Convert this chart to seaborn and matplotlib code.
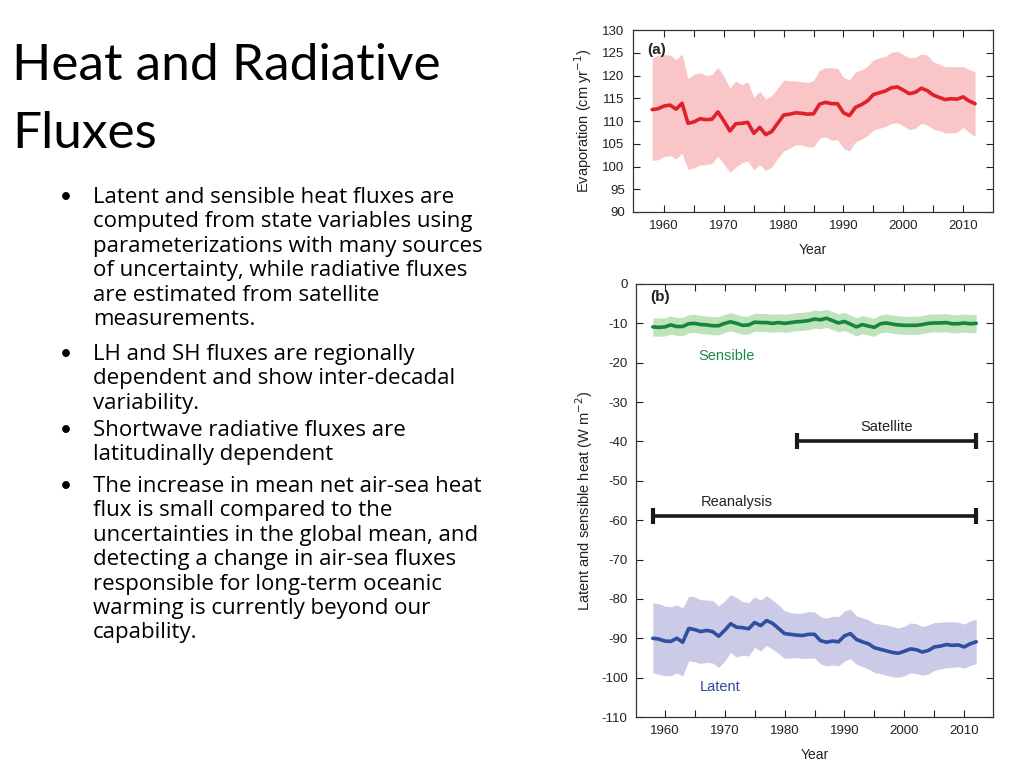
import numpy as np
import pandas as pd
import matplotlib
matplotlib.use("Agg")
import matplotlib.pyplot as plt
import seaborn as sns

# --- data (years 1958-2012) ---
years = list(range(1958, 2013))

evap = [112.5, 112.7, 113.3, 113.5, 112.6, 113.9, 109.5, 109.8, 110.5, 110.3,
        110.4, 112.0, 110.0, 107.8, 109.4, 109.5, 109.7, 107.3, 108.6, 107.0,
        107.7, 109.5, 111.3, 111.5, 111.8, 111.7, 111.5, 111.6, 113.7, 114.1,
        113.8, 113.8, 111.8, 111.2, 113.0, 113.6, 114.4, 115.8, 116.2, 116.6,
        117.3, 117.5, 116.8, 116.0, 116.3, 117.2, 116.7, 115.7, 115.2, 114.7,
        114.9, 114.8, 115.3, 114.4, 113.8]
evap_hi = [123.8, 124.5, 124.6, 124.5, 123.5, 124.7, 119.3, 120.3, 120.6, 120.0,
           120.2, 121.8, 119.8, 117.2, 118.8, 118.0, 118.6, 115.2, 116.5, 114.8,
           115.6, 117.2, 119.0, 118.8, 118.8, 118.6, 118.5, 118.9, 121.2, 121.7,
           121.7, 121.6, 119.6, 119.0, 120.8, 121.2, 122.0, 123.4, 123.9, 124.2,
           125.1, 125.3, 124.6, 123.9, 124.0, 124.7, 124.5, 123.0, 122.5, 121.9,
           122.0, 121.9, 122.0, 121.3, 120.8]
evap_lo = [101.3, 101.5, 102.2, 102.4, 101.6, 102.9, 99.4, 99.7, 100.3, 100.4,
           100.7, 102.3, 100.5, 98.7, 99.9, 100.8, 101.2, 99.3, 100.4, 99.1,
           99.9, 101.8, 103.4, 104.0, 104.8, 104.7, 104.3, 104.3, 106.2, 106.5,
           105.8, 105.9, 104.0, 103.4, 105.4, 106.0, 106.8, 108.0, 108.4, 108.8,
           109.4, 109.6, 108.9, 108.1, 108.4, 109.5, 109.1, 108.2, 107.9, 107.4,
           107.4, 107.5, 108.6, 107.5, 106.6]

sensible = [-10.9, -11.0, -10.9, -10.4, -10.8, -10.8, -10.1, -10.0, -10.3, -10.4,
            -10.6, -10.6, -10.0, -9.6, -10.0, -10.5, -10.4, -9.7, -9.8, -9.8,
            -10.0, -9.8, -10.0, -9.8, -9.6, -9.5, -9.3, -8.9, -9.1, -8.7,
            -9.3, -9.9, -9.5, -10.2, -10.9, -10.3, -10.7, -11.0, -10.1, -9.9,
            -10.2, -10.4, -10.5, -10.5, -10.5, -10.3, -10.0, -9.9, -9.9, -9.8,
            -10.1, -10.1, -9.9, -10.1, -10.0]
sensible_hi = [-8.6, -8.7, -8.6, -8.1, -8.5, -8.5, -7.8, -7.7, -8.0, -8.1,
               -8.3, -8.3, -7.7, -7.3, -7.7, -8.2, -8.1, -7.4, -7.5, -7.5,
               -7.7, -7.5, -7.7, -7.5, -7.3, -7.2, -7.0, -6.6, -6.8, -6.4,
               -7.0, -7.6, -7.2, -7.9, -8.6, -8.0, -8.4, -8.7, -7.8, -7.6,
               -7.9, -8.1, -8.2, -8.2, -8.2, -8.0, -7.7, -7.6, -7.6, -7.5,
               -7.8, -7.8, -7.6, -7.8, -7.7]
sensible_lo = [-13.2, -13.3, -13.2, -12.7, -13.1, -13.1, -12.4, -12.3, -12.6, -12.7,
               -12.9, -12.9, -12.3, -11.9, -12.3, -12.8, -12.7, -12.0, -12.1, -12.1,
               -12.3, -12.1, -12.3, -12.1, -11.9, -11.8, -11.6, -11.2, -11.4, -11.0,
               -11.6, -12.2, -11.8, -12.5, -13.2, -12.6, -13.0, -13.3, -12.4, -12.2,
               -12.5, -12.7, -12.8, -12.8, -12.8, -12.6, -12.3, -12.2, -12.2, -12.1,
               -12.4, -12.4, -12.2, -12.4, -12.3]

latent = [-90.0, -90.2, -90.7, -90.8, -90.0, -91.0, -87.5, -87.8, -88.3, -88.0,
          -88.3, -89.5, -88.0, -86.3, -87.2, -87.3, -87.6, -86.0, -86.8, -85.5,
          -86.2, -87.5, -88.8, -89.0, -89.2, -89.3, -89.0, -89.0, -90.6, -91.0,
          -90.7, -90.9, -89.4, -88.8, -90.3, -90.9, -91.4, -92.4, -92.8, -93.2,
          -93.6, -93.8, -93.3, -92.7, -92.9, -93.5, -93.1, -92.2, -92.0, -91.6,
          -91.8, -91.7, -92.2, -91.4, -90.9]
latent_hi = [-81.0, -81.2, -81.8, -82.0, -81.5, -82.3, -79.3, -79.5, -80.2, -80.3,
             -80.4, -81.8, -80.5, -78.9, -79.7, -80.7, -80.9, -79.5, -80.3, -79.2,
             -80.3, -81.5, -83.0, -83.5, -83.7, -83.6, -83.2, -83.3, -84.5, -84.9,
             -84.4, -84.5, -83.1, -82.6, -84.3, -84.8, -85.3, -86.2, -86.4, -86.6,
             -87.0, -87.4, -86.9, -86.1, -86.3, -87.0, -86.6, -86.0, -85.9, -85.8,
             -85.8, -85.9, -86.4, -85.6, -85.2]
latent_lo = [-98.7, -99.2, -99.5, -99.5, -98.8, -99.6, -95.7, -96.0, -96.4, -96.1,
             -96.3, -97.4, -95.8, -93.6, -94.8, -94.3, -94.5, -92.3, -93.2, -91.8,
             -92.8, -93.9, -95.1, -95.0, -94.9, -95.1, -95.1, -95.0, -96.5, -97.0,
             -96.8, -97.0, -95.8, -95.2, -96.6, -97.2, -97.8, -98.7, -99.0, -99.4,
             -99.8, -99.9, -99.5, -98.8, -99.0, -99.4, -99.1, -98.2, -97.8, -97.5,
             -97.4, -97.2, -97.6, -96.9, -96.5]

satellite_span = [1982, 2012]
satellite_level = -40
reanalysis_span = [1958, 2012]
reanalysis_level = -59

title_lines = ["Heat and Radiative", "Fluxes"]
bullets = [
    ["Latent and sensible heat fluxes are",
     "computed from state variables using",
     "parameterizations with many sources",
     "of uncertainty, while radiative fluxes",
     "are estimated from satellite",
     "measurements."],
    ["LH and SH fluxes are regionally",
     "dependent and show inter-decadal",
     "variability."],
    ["Shortwave radiative fluxes are",
     "latitudinally dependent"],
    ["The increase in mean net air-sea heat",
     "flux is small compared to the",
     "uncertainties in the global mean, and",
     "detecting a change in air-sea fluxes",
     "responsible for long-term oceanic",
     "warming is currently beyond our",
     "capability."],
]

df = pd.DataFrame({"Year": years, "evap": evap, "sensible": sensible, "latent": latent})

sns.set_style("ticks")
plt.rcParams["font.family"] = ["Liberation Sans", "DejaVu Sans"]
plt.rcParams["axes.unicode_minus"] = False

fig = plt.figure(figsize=(10.24, 7.68), dpi=100)
W, H = 1024, 768

# ---- slide text ----
title_font = ["Lato", "DejaVu Sans"]
body_font = ["Open Sans", "DejaVu Sans"]
fig.text(12 / W, 1 - 80 / H, title_lines[0], fontsize=37, family=title_font,
         va="baseline", color="black")
fig.text(12 / W, 1 - 148 / H, title_lines[1], fontsize=37, family=title_font,
         va="baseline", color="black")

para_start = [203, 360, 436, 492]
step = 24.4
for start, lines in zip(para_start, bullets):
    fig.text(60 / W, 1 - start / H, "\u2022", fontsize=15, family=title_font,
             va="baseline", color="black")
    for i, line in enumerate(lines):
        fig.text(93 / W, 1 - (start + i * step) / H, line, fontsize=16,
                 family=body_font, va="baseline", color="black")

spine_col = "#333333"


def style_axes(ax):
    ax.tick_params(direction="in", top=True, right=True, length=5, width=0.8,
                   labelsize=9.5, colors="#222222", pad=6)
    for s in ax.spines.values():
        s.set_color(spine_col)
        s.set_linewidth(0.9)
    ax.set_xticks(list(range(1960, 2011, 5)))
    ax.set_xticklabels([str(y) if y % 10 == 0 else "" for y in range(1960, 2011, 5)])
    ax.set_xlabel("Year", fontsize=10, color="#222222", labelpad=8)


# ---- panel (a) ----
ax1 = fig.add_axes([633 / W, 1 - 212 / H, 360 / W, 182 / H])
ax1.fill_between(years, evap_lo, evap_hi, color="#f9c5c7", lw=0)
sns.lineplot(data=df, x="Year", y="evap", ax=ax1, color="#e0202b", lw=2.6)
ax1.set_xlim(1954.8, 2015)
ax1.set_ylim(90, 130)
ax1.set_yticks(list(range(90, 131, 5)))
style_axes(ax1)
ax1.set_ylabel("Evaporation (cm yr$^{-1}$)", fontsize=10.5, color="#222222", labelpad=6)
ax1.text(0.04, 0.93, "(a)", transform=ax1.transAxes, fontsize=11, fontweight="bold",
         va="top", color="#222222")

# ---- panel (b) ----
ax2 = fig.add_axes([636 / W, 1 - 717 / H, 357 / W, 433 / H])
ax2.fill_between(years, sensible_lo, sensible_hi, color="#bfe3bb", lw=0)
ax2.fill_between(years, latent_lo, latent_hi, color="#cbcbe8", lw=0)
sns.lineplot(data=df, x="Year", y="sensible", ax=ax2, color="#17853d", lw=2.6)
sns.lineplot(data=df, x="Year", y="latent", ax=ax2, color="#2f4fa2", lw=2.6)

for span, lev in [(satellite_span, satellite_level), (reanalysis_span, reanalysis_level)]:
    ax2.plot(span, [lev, lev], color="#1a1a1a", lw=2.6, marker="|", ms=11, mew=3,
             solid_capstyle="butt")

ax2.text(1997, -37.3, "Satellite", ha="center", va="baseline", fontsize=10.5, color="#222222")
ax2.text(1972, -56.5, "Reanalysis", ha="center", va="baseline", fontsize=10.5, color="#222222")
ax2.text(1970.3, -19.2, "Sensible", ha="center", va="baseline", fontsize=10.5, color="#1e8a45")
ax2.text(1969.2, -103.5, "Latent", ha="center", va="baseline", fontsize=10.5, color="#2e4a9a")
ax2.text(0.04, 0.985, "(b)", transform=ax2.transAxes, fontsize=11, fontweight="bold",
         va="top", color="#222222")

ax2.set_xlim(1955.2, 2014.8)
ax2.set_ylim(-110, 0)
ax2.set_yticks(list(range(-110, 1, 10)))
style_axes(ax2)
ax2.set_ylabel("Latent and sensible heat (W m$^{-2}$)", fontsize=10.5, color="#222222",
               labelpad=4)

fig.savefig("out.png", dpi=100)
